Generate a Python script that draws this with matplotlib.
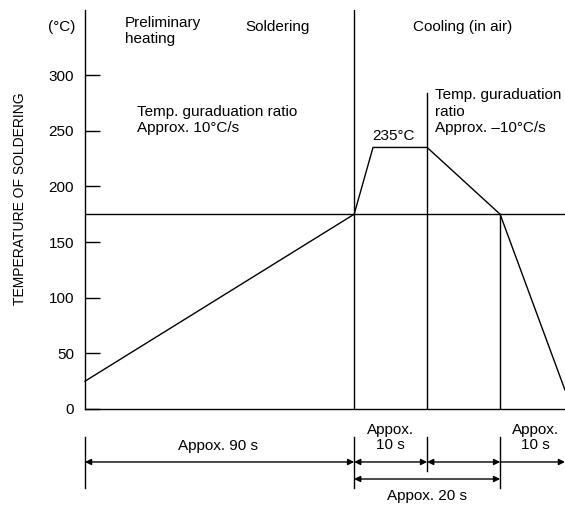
import matplotlib
matplotlib.use("Agg")
import matplotlib.pyplot as plt

plt.rcParams['font.family'] = ['Liberation Sans', 'DejaVu Sans']
plt.rcParams['font.size'] = 11

# soldering profile (schematic time axis, seconds)
profile_time = [0, 90, 96.3, 114.4, 138.8, 160.5]
profile_temp = [25, 175, 235, 235, 175, 17]
yticks = [0, 50, 100, 150, 200, 250, 300]

t_solder = 90
t_peak_end = 114.4
t_cool = 138.8
t_end = 160.5
level = 175

fig = plt.figure(figsize=(5.65, 5.07), dpi=100)
ax = fig.add_axes([85 / 565, 98 / 507, 480 / 565, 399 / 507])
ax.set_xlim(0, t_end)
ax.set_ylim(0, 358.5)

lw = 1.0
ax.plot(profile_time, profile_temp, color='black', lw=lw, clip_on=False)
ax.axhline(level, color='black', lw=lw)
ax.plot([t_solder, t_solder], [0, 358.5], color='black', lw=lw)
ax.plot([t_peak_end, t_peak_end], [0, 284], color='black', lw=lw)
ax.plot([t_cool, t_cool], [0, level], color='black', lw=lw)

for s in ['top', 'right']:
    ax.spines[s].set_visible(False)
for s in ['left', 'bottom']:
    ax.spines[s].set_linewidth(lw)
ax.set_xticks([])
ax.set_yticks(yticks)
ax.tick_params(axis='y', direction='in', length=11, width=lw, pad=8)

fig.text(20 / 565, (507 - 199) / 507, 'TEMPERATURE OF SOLDERING',
         rotation=90, ha='center', va='center', fontsize=10)
ax.text(-3.3, 343, '(°C)', ha='right', va='center', clip_on=False)

ax.text(13.4, 353, 'Preliminary\nheating', ha='left', va='top', linespacing=1.15)
ax.text(53.5, 343, 'Soldering', ha='left', va='center')
ax.text(109.7, 343, 'Cooling (in air)', ha='left', va='center')
ax.text(17.4, 273, 'Temp. guraduation ratio\nApprox. 10°C/s', ha='left', va='top',
        linespacing=1.2)
ax.text(96, 245, '235°C', ha='left', va='center')
ax.text(117, 288, 'Temp. guraduation\nratio\nApprox. \u201310°C/s', ha='left', va='top',
        linespacing=1.2, clip_on=False)

# dimension lines below the axis
ext = [(0, -25, -71), (t_solder, -25, -71), (t_peak_end, -25, -56), (t_cool, -25, -71)]
for x, y0, y1 in ext:
    ax.plot([x, x], [y0, y1], color='black', lw=lw, clip_on=False)

arr = dict(arrowstyle='<|-|>', color='black', lw=lw, mutation_scale=9,
           shrinkA=0, shrinkB=0)
row1 = -47.6
row2 = -62.9
for a, b in [(0, t_solder), (t_solder, t_peak_end), (t_peak_end, t_cool)]:
    ax.annotate('', xy=(a, row1), xytext=(b, row1), arrowprops=arr,
                annotation_clip=False)
ax.annotate('', xy=(t_cool, row1), xytext=(t_end, row1),
            arrowprops=dict(arr, arrowstyle='<|-'), annotation_clip=False)
ax.annotate('', xy=(t_solder, row2), xytext=(t_cool, row2), arrowprops=arr,
            annotation_clip=False)

ax.text(44.5, -33, 'Appox. 90 s', ha='center', va='center', clip_on=False)
ax.text(102.2, -25.5, 'Appox.\n10 s', ha='center', va='center', linespacing=1.1,
        clip_on=False)
ax.text(150.5, -25.5, 'Appox.\n10 s', ha='center', va='center', linespacing=1.1,
        clip_on=False)
ax.text((t_solder + t_cool) / 2, -78, 'Appox. 20 s', ha='center', va='center',
        clip_on=False)

fig.savefig('out.png', dpi=100)
